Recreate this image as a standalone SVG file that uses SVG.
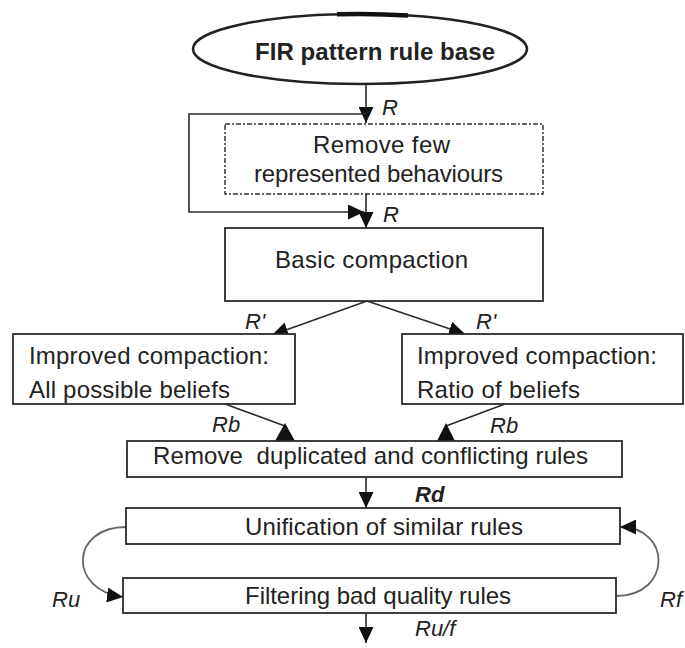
<svg xmlns="http://www.w3.org/2000/svg" width="685" height="648" viewBox="0 0 685 648">
  <style>
    .box { fill: #fff; stroke: #2b2b2b; stroke-width: 1.8; }
    .dash { fill: #fff; stroke: #333; stroke-width: 1.5; stroke-dasharray: 5 2 2 2; }
    .txt { font-family: "Liberation Sans", Arial, sans-serif; font-size: 24px; fill: #222; }
    .title { font-family: "Liberation Sans", Arial, sans-serif; font-size: 24px; font-weight: bold; fill: #222; }
    .lbl { font-family: "Liberation Sans", Arial, sans-serif; font-size: 22px; font-style: italic; fill: #222; }
    .edge { fill: none; stroke: #2b2b2b; stroke-width: 1.6; }
    .loop { fill: none; stroke: #666; stroke-width: 1.8; }
    .head { fill: #111; }
  </style>
  <defs>
    <marker id="arrow" markerUnits="userSpaceOnUse" markerWidth="16" markerHeight="15" refX="16" refY="7.5" orient="auto">
      <path d="M0,0 L16,7.5 L0,15 z" fill="#111"/>
    </marker>
  </defs>

  <rect width="685" height="648" fill="#fff"/>

  <!-- connectors -->
  <g id="connectors">
    <line class="edge" x1="366" y1="83" x2="366" y2="123" marker-end="url(#arrow)"/>
    <polyline class="edge" points="366,114 189,114 189,212 364,212" marker-end="url(#arrow)"/>
    <line class="edge" x1="366" y1="194" x2="366" y2="228" marker-end="url(#arrow)"/>
    <line class="edge" x1="367" y1="301" x2="272" y2="335" marker-end="url(#arrow)"/>
    <line class="edge" x1="367" y1="301" x2="465" y2="334" marker-end="url(#arrow)"/>
    <line class="edge" x1="225" y1="404" x2="285" y2="426"/>
    <polygon class="head" points="285,423 275,441 295,441"/>
    <line class="edge" x1="505" y1="404" x2="446" y2="426"/>
    <polygon class="head" points="446,423 437,441 455,441"/>
    <line class="edge" x1="366" y1="477" x2="366" y2="508" marker-end="url(#arrow)"/>
    <path class="loop" d="M126,527 C70,527 68,590 123,597" marker-end="url(#arrow)"/>
    <path class="loop" d="M616,596 C672,596 672,527 620,527" marker-end="url(#arrow)"/>
    <line class="edge" x1="366" y1="613" x2="366" y2="643" marker-end="url(#arrow)"/>
  </g>

  <!-- edge labels -->
  <g id="labels">
    <text class="lbl" x="382" y="115">R</text>
    <text class="lbl" x="383" y="222">R</text>
    <text class="lbl" x="245" y="329">R'</text>
    <text class="lbl" x="476" y="329">R'</text>
    <text class="lbl" x="212" y="432">Rb</text>
    <text class="lbl" x="490" y="433">Rb</text>
    <text class="lbl" x="415" y="502" font-weight="bold">Rd</text>
    <text class="lbl" x="52" y="607">Ru</text>
    <text class="lbl" x="660" y="607">Rf</text>
    <text class="lbl" x="415" y="636">Ru/f</text>
  </g>

  <g id="rule-base">
    <ellipse cx="360" cy="49" rx="167" ry="35" fill="#fff" stroke="#222" stroke-width="2.5"/>
    <path d="M337,14.3 A167,35 0 0,1 408,15.5" fill="none" stroke="#111" stroke-width="4.5"/>
    <text class="title" x="255" y="60" textLength="240" lengthAdjust="spacing">FIR pattern rule base</text>
  </g>

  <g id="remove-few">
    <rect class="dash" x="225" y="124" width="318" height="70"/>
    <text class="txt" x="313" y="153" textLength="137" lengthAdjust="spacing">Remove few</text>
    <text class="txt" x="254" y="182" textLength="249" lengthAdjust="spacing">represented behaviours</text>
  </g>

  <g id="basic-compaction">
    <rect class="box" x="225" y="228" width="318" height="73"/>
    <text class="txt" x="275" y="268" textLength="193" lengthAdjust="spacing">Basic compaction</text>
  </g>

  <g id="improved-all">
    <rect class="box" x="13" y="334" width="282" height="70"/>
    <text class="txt" x="29" y="364" textLength="240" lengthAdjust="spacing">Improved compaction:</text>
    <text class="txt" x="29" y="398" textLength="201" lengthAdjust="spacing">All possible beliefs</text>
  </g>

  <g id="improved-ratio">
    <rect class="box" x="402" y="334" width="281" height="70"/>
    <text class="txt" x="417" y="364" textLength="240" lengthAdjust="spacing">Improved compaction:</text>
    <text class="txt" x="417" y="398" textLength="163" lengthAdjust="spacing">Ratio of beliefs</text>
  </g>

  <g id="remove-duplicated">
    <rect class="box" x="127" y="441" width="495" height="36"/>
    <text class="txt" x="153" y="464" xml:space="preserve" textLength="435" lengthAdjust="spacing">Remove  duplicated and conflicting rules</text>
  </g>

  <g id="unification">
    <rect class="box" x="126" y="508" width="494" height="36"/>
    <text class="txt" x="245" y="535" textLength="278" lengthAdjust="spacing">Unification of similar rules</text>
  </g>

  <g id="filtering">
    <rect class="box" x="123" y="578" width="493" height="35"/>
    <text class="txt" x="245" y="604" textLength="266" lengthAdjust="spacing">Filtering bad quality rules</text>
  </g>
</svg>
